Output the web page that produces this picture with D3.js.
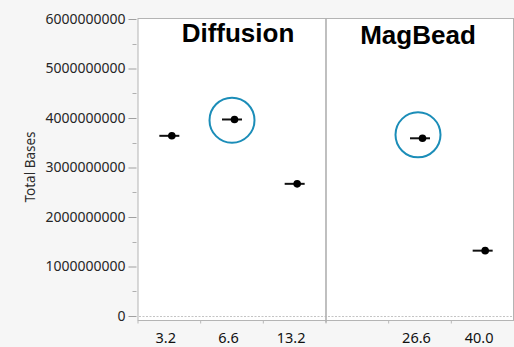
<!DOCTYPE html>
<html>
<head>
<meta charset="utf-8">
<script src="https://cdn.jsdelivr.net/npm/d3@7"></script>
<style>
  html, body { margin: 0; padding: 0; background: #f6f6f6; }
  svg { display: block; }
</style>
</head>
<body>
<svg id="chart" width="514" height="347"></svg>
<script>
// ---- data ----
const panelNames = ["Diffusion", "MagBead"];
const diffusionConc = ["3.2", "6.6", "13.2"];
const diffusionBases = [3.64e9, 3.97e9, 2.67e9];
const magbeadConc = ["", "26.6", "40.0"];
const magbeadBases = [null, 3.59e9, 1.32e9];
const yTickValues = [0, 1e9, 2e9, 3e9, 4e9, 5e9, 6e9];
const highlighted = [["Diffusion", "6.6"], ["MagBead", "26.6"]];

(function () {
// ---- layout ----
const plotL = 138, plotR = 513.5, plotT = 18.5, plotB = 320.5;
const divider = 326;
const svg = d3.select("#chart");

const y = d3.scaleLinear().domain([0, 6e9]).range([316, 19]);

const panels = [
  { name: panelNames[0], cats: diffusionConc, vals: diffusionBases, x0: plotL, x1: divider },
  { name: panelNames[1], cats: magbeadConc, vals: magbeadBases, x0: divider, x1: 514 }
];
panels.forEach(p => {
  p.x = d3.scaleBand().domain(p.cats).range([p.x0, p.x1]);
});

// plot background
svg.append("rect").attr("x", plotL).attr("y", plotT).attr("width", plotR - plotL).attr("height", plotB - plotT)
  .attr("fill", "#ffffff").attr("stroke", "#b4b4b4").attr("stroke-width", 1);

// zero reference dotted line
svg.append("line").attr("x1", plotL + 1).attr("x2", plotR - 1)
  .attr("y1", y(0) + 0.5).attr("y2", y(0) + 0.5)
  .attr("stroke", "#c4c4c4").attr("stroke-width", 1).attr("stroke-dasharray", "2,1.5");

// divider between panels
svg.append("line").attr("x1", divider).attr("x2", divider).attr("y1", plotT).attr("y2", plotB + 2)
  .attr("stroke", "#b0b0b0").attr("stroke-width", 1.6);

// ---- y axis ----
const yAxis = d3.axisLeft(y).tickValues(yTickValues).tickFormat(d3.format("d")).tickSize(8).tickPadding(3);
const gy = svg.append("g").attr("transform", `translate(${plotL - 1.5},0)`).call(yAxis);
gy.select(".domain").remove();
gy.selectAll(".tick line").attr("stroke", "#a0a0a0");
gy.selectAll(".tick text").attr("fill", "#262626")
  .style("font-family", "'Noto Sans', 'Open Sans', sans-serif").style("font-size", "14px");

// minor ticks
const minor = d3.range(0.5e9, 6e9, 1e9);
svg.append("g").selectAll("line").data(minor).join("line")
  .attr("x1", plotL - 5.5).attr("x2", plotL - 1.5)
  .attr("y1", d => Math.round(y(d)) + 0.5).attr("y2", d => Math.round(y(d)) + 0.5)
  .attr("stroke", "#b0b0b0");

// y title
svg.append("text").attr("transform", `translate(35,167) rotate(-90)`)
  .attr("text-anchor", "middle").attr("fill", "#2a2a2a")
  .style("font-family", "'Noto Sans', 'Open Sans', sans-serif").style("font-size", "13.5px")
  .text("Total Bases");

// ---- x axes and marks ----
panels.forEach(p => {
  const g = svg.append("g");
  const bounds = p.cats.map(c => p.x(c));
  g.selectAll("line.xt").data(bounds).join("line").attr("class", "xt")
    .attr("x1", d => d).attr("x2", d => d).attr("y1", plotB).attr("y2", plotB + 3)
    .attr("stroke", "#b8b8b8");
  g.selectAll("text.xl").data(p.cats).join("text").attr("class", "xl")
    .attr("x", d => p.x(d) + p.x.bandwidth() / 2 - 3.5).attr("y", 342.5)
    .attr("text-anchor", "middle").attr("fill", "#111")
    .style("font-family", "'Noto Sans', 'Open Sans', sans-serif").style("font-size", "14.5px")
    .text(d => d);

  const pts = p.cats.map((c, i) => ({ c, v: p.vals[i] })).filter(d => d.v != null);
  g.selectAll("line.mean").data(pts).join("line").attr("class", "mean")
    .attr("x1", d => p.x(d.c) + p.x.bandwidth() / 2 - 10)
    .attr("x2", d => p.x(d.c) + p.x.bandwidth() / 2 + 10)
    .attr("y1", d => y(d.v)).attr("y2", d => y(d.v))
    .attr("stroke", "#111").attr("stroke-width", 2);
  g.selectAll("circle.pt").data(pts).join("circle").attr("class", "pt")
    .attr("cx", d => p.x(d.c) + p.x.bandwidth() / 2 + 2.5)
    .attr("cy", d => y(d.v)).attr("r", 3.8).attr("fill", "#000");

  g.append("text")
    .attr("x", (p.x0 + p.x1) / 2 + (p.name === "Diffusion" ? 6 : -2))
    .attr("y", p.name === "Diffusion" ? 41.5 : 44)
    .attr("text-anchor", "middle").attr("fill", "#000")
    .style("font-family", "'Liberation Sans', Arial, sans-serif").style("font-weight", "bold").style("font-size", "26px")
    .text(p.name);
});

// highlight circles
highlighted.forEach(([pn, c]) => {
  const p = panels.find(q => q.name === pn);
  const v = p.vals[p.cats.indexOf(c)];
  const dx = pn === "Diffusion" ? 0 : -2;
  const dy = pn === "Diffusion" ? 0.7 : -3.5;
  svg.append("circle")
    .attr("cx", p.x(c) + p.x.bandwidth() / 2 + dx)
    .attr("cy", y(v) + dy)
    .attr("r", 22.5).attr("fill", "none").attr("stroke", "#1b8db8").attr("stroke-width", 2);
});
})();
</script>
</body>
</html>
